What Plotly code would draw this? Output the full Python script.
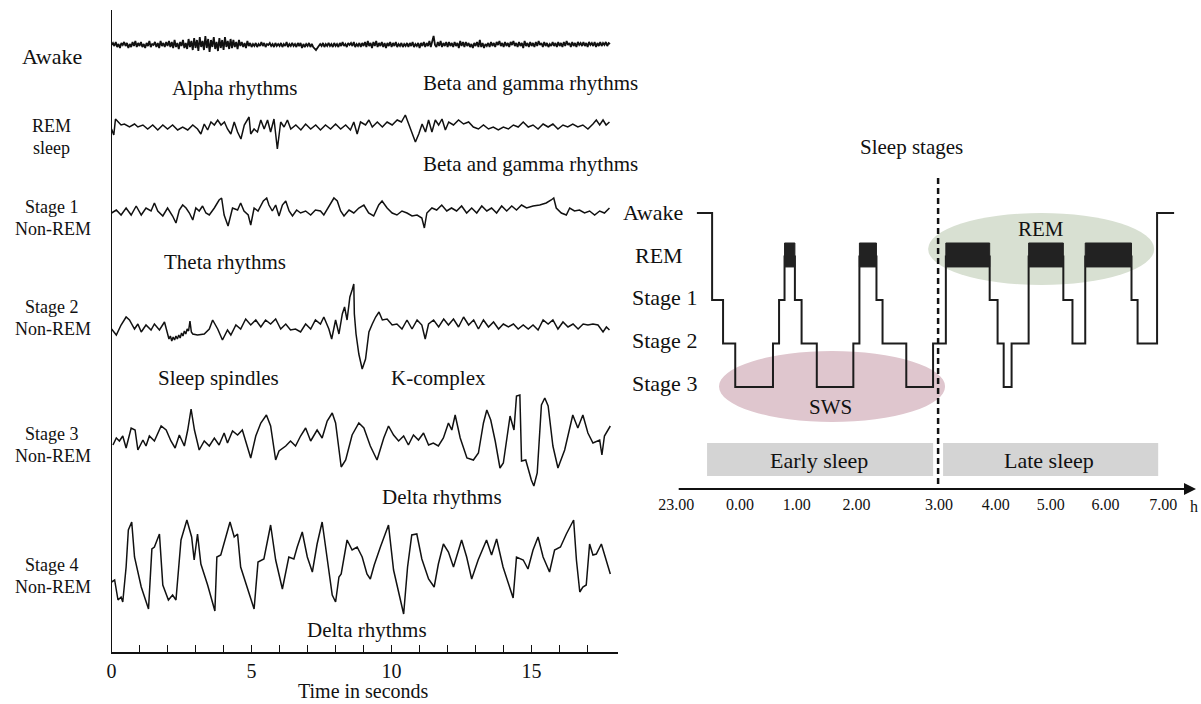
import plotly.graph_objects as go

FONT = "Liberation Serif"
W, H = 1201, 704

# ---------------- EEG traces ----------------
# Awake: values sampled every 0.05 s (high-frequency trace)
awake_dt = 0.05
awake_v = [0,2,-1,3,-2,1,-3,2,0,3,-1,2,-3,1,-2,3,-1,4,-2,2,
 -1,3,-2,1,-3,2,-1,4,-2,1,0,3,-2,2,-3,4,-1,2,-2,3,
 -1,4,-2,3,-3,5,-2,2,-4,3,-1,5,-3,2,-4,6,-2,4,-5,7,
 -3,5,-6,8,-2,4,-5,9,-3,6,-7,5,-2,8,-4,3,-6,7,-3,5,
 -5,8,-2,4,-4,6,-3,5,-2,3,-4,5,-1,3,-2,2,-3,4,-1,2,
 -2,1,-1,2,-2,1,-1,3,-1,2,-2,1,0,2,-1,1,-2,2,-1,1,
 -1,2,-2,1,-1,3,-2,1,-1,2,-1,1,-2,2,-1,2,-3,1,-2,1,
 -1,2,-2,1,-2,-4,-5,-3,-1,1,-1,2,-2,1,-1,2,-1,1,-2,2,
 -1,1,-2,2,-1,3,-1,1,-2,2,0,2,-1,3,-2,1,-1,2,-2,2,
 -1,3,-2,4,-1,2,-3,3,-1,4,-2,2,-1,3,-2,2,-3,2,-1,3,
 -2,2,-1,3,-2,1,-1,2,-2,1,-1,2,-2,2,-1,3,-2,1,-1,2,
 -3,2,-1,3,-2,2,-1,4,-2,3,9,0,-2,3,-1,4,-2,2,-1,3,
 -2,3,-1,2,-2,3,-1,2,-3,4,-1,3,-2,3,-1,2,-2,1,-3,2,
 -1,3,-2,5,-2,2,-3,1,-1,2,-2,3,-1,2,-2,3,0,4,-1,2,
 -2,3,-1,2,-2,3,0,4,-1,2,-2,3,-1,2,-3,4,-1,2,-2,3,
 -1,2,-2,3,-1,4,0,2,-2,3,-1,2,-2,1,-1,3,-1,2,-2,3,
 -1,2,-2,3,-1,4,0,2,-2,3,-1,2,-2,3,0,2,-1,3,-1,2,
 -2,3,0,2,-1,3,-2,2,-1,3,-1,2,0,3,-1,2,1]

# Other stages: (time in s, amplitude) turning points
rem_pts = [(0.0,-2),(0.08,-8),(0.14,8),(0.23,5),(0.34,2),(0.46,3),(0.64,0),(0.82,3),(0.94,0),(1.12,2),
 (1.29,-2),(1.47,2),(1.65,-3),(1.83,2),(2.0,-2),(2.18,2),(2.36,-3),(2.54,0),(2.72,-3),(2.9,2),
 (3.07,-2),(3.19,-7),(3.31,3),(3.43,-3),(3.55,5),(3.67,2),(3.79,7),(3.91,2),(4.03,5),(4.14,-2),
 (4.26,-7),(4.38,5),(4.5,-5),(4.62,-12),(4.74,2),(4.91,10),(4.97,-7),(5.09,-2),(5.21,-5),(5.33,7),
 (5.45,-2),(5.57,7),(5.68,-5),(5.8,8),(5.92,-22),(6.04,5),(6.16,0),(6.28,7),(6.4,-2),(6.58,2),
 (6.76,-3),(6.93,3),(7.11,-2),(7.29,2),(7.46,-3),(7.64,2),(7.82,-2),(8.0,3),(8.18,-2),(8.36,2),
 (8.53,-3),(8.65,5),(8.77,-7),(8.89,5),(9.07,2),(9.19,7),(9.31,0),(9.49,5),(9.67,0),(9.84,5),
 (10.02,2),(10.2,7),(10.35,5),(10.49,12),(10.61,3),(10.85,-15),(10.97,-7),(11.09,3),(11.21,-5),(11.32,7),
 (11.44,-5),(11.56,7),(11.68,2),(11.8,8),(11.92,-3),(12.04,5),(12.21,2),(12.39,7),(12.57,3),(12.75,5),
 (12.92,0),(13.1,-2),(13.28,2),(13.46,-2),(13.63,0),(13.81,-3),(13.99,0),(14.17,-2),(14.35,2),(14.52,0),
 (14.7,5),(14.88,0),(15.05,2),(15.23,-2),(15.41,3),(15.59,0),(15.76,3),(15.94,-2),(16.12,2),(16.29,0),
 (16.47,3),(16.65,0),(16.83,2),(17.01,-2),(17.19,3),(17.31,7),(17.43,2),(17.55,7),(17.66,2),(17.78,5)]

stage1_pts = [(0.0,0),(0.17,3),(0.34,-2),(0.52,5),(0.7,-2),(0.88,7),(1.06,-2),(1.23,5),(1.41,2),(1.53,10),
 (1.65,2),(1.83,-3),(2.0,5),(2.18,-3),(2.3,-10),(2.42,3),(2.54,8),(2.66,5),(2.78,0),(2.9,-7),
 (3.01,5),(3.13,2),(3.25,7),(3.37,0),(3.49,-2),(3.67,5),(3.84,13),(3.93,15),(4.02,-2),(4.16,-13),
 (4.32,5),(4.5,3),(4.61,10),(4.73,2),(4.88,-2),(4.97,-12),(5.09,5),(5.23,2),(5.42,12),(5.54,15),
 (5.62,8),(5.74,2),(5.86,8),(5.98,-3),(6.1,8),(6.22,12),(6.34,2),(6.46,-3),(6.61,3),(6.75,0),
 (6.93,2),(7.11,-2),(7.28,3),(7.46,2),(7.58,-2),(7.94,15),(8.06,12),(8.18,2),(8.3,-3),(8.48,3),
 (8.65,0),(8.83,5),(9.01,8),(9.18,0),(9.36,-3),(9.54,8),(9.66,12),(9.84,5),(10.02,0),(10.19,-2),
 (10.37,2),(10.55,0),(10.73,-3),(10.91,-2),(11.08,-5),(11.17,-15),(11.26,0),(11.44,5),(11.61,3),(11.79,8),
 (11.97,2),(12.14,5),(12.32,2),(12.5,7),(12.68,0),(12.86,5),(13.04,0),(13.22,7),(13.4,2),(13.57,5),
 (13.75,0),(13.93,7),(14.11,2),(14.29,7),(14.46,3),(14.64,8),(14.82,5),(15.05,7),(15.29,8),(15.52,10),
 (15.7,13),(15.79,15),(15.88,5),(16.06,0),(16.24,-2),(16.36,5),(16.53,2),(16.71,3),(16.89,0),(17.07,2),
 (17.25,-2),(17.43,2),(17.6,0),(17.78,5)]

stage2_pts = [(0.0,-2),(0.17,-8),(0.34,2),(0.52,10),(0.64,7),(0.82,-2),(0.94,3),(1.06,-5),(1.23,2),(1.41,-3),
 (1.53,3),(1.71,-3),(1.89,5),(2.0,-5),(2.05,-12),(2.1,-9),(2.15,-14),(2.2,-10),(2.25,-13),(2.3,-9),
 (2.35,-12),(2.4,-8),(2.45,-11),(2.5,-6),(2.55,-9),(2.6,-4),(2.65,-7),(2.7,-2),(2.75,-4),(2.8,6),
 (2.85,-5),(2.9,-7),(3.07,-8),(3.31,-7),(3.49,-2),(3.61,7),(3.79,-2),(3.96,-13),(4.14,-3),(4.26,-8),
 (4.44,2),(4.61,-2),(4.79,8),(4.97,2),(5.15,7),(5.33,0),(5.5,7),(5.68,3),(5.86,8),(6.04,-2),
 (6.22,3),(6.39,-3),(6.57,-2),(6.75,-5),(6.93,3),(7.11,-2),(7.28,7),(7.46,3),(7.58,10),(7.76,-2),
 (7.86,-12),(8.0,7),(8.12,-7),(8.24,13),(8.32,20),(8.41,7),(8.51,30),(8.59,37),(8.65,43),(8.67,13),
 (8.73,-7),(8.83,-27),(8.95,-42),(9.07,-32),(9.19,-5),(9.31,3),(9.43,10),(9.55,15),(9.67,7),(9.84,8),
 (10.02,2),(10.19,3),(10.37,-2),(10.55,7),(10.73,-2),(10.91,7),(11.08,2),(11.2,-12),(11.32,3),(11.5,7),
 (11.68,0),(11.86,8),(12.03,2),(12.21,8),(12.39,0),(12.57,10),(12.75,2),(12.93,7),(13.1,-2),(13.28,7),
 (13.46,0),(13.64,5),(13.82,-2),(13.99,3),(14.17,0),(14.35,3),(14.52,-2),(14.7,2),(14.88,-2),(15.05,2),
 (15.23,-3),(15.41,7),(15.59,3),(15.76,7),(15.94,-2),(16.12,5),(16.3,0),(16.48,3),(16.66,-2),(16.84,3),
 (17.01,2),(17.19,3),(17.37,2),(17.55,-5),(17.67,0),(17.78,-3)]

stage3_pts = [(0.05,-2),(0.17,5),(0.28,2),(0.4,7),(0.52,-5),(0.7,15),(0.84,13),(0.94,-7),(1.12,3),(1.23,-3),
 (1.35,7),(1.53,2),(1.77,17),(1.95,13),(2.12,2),(2.27,-5),(2.42,8),(2.6,-3),(2.72,13),(2.84,34),
 (2.96,13),(3.13,-7),(3.31,2),(3.49,-3),(3.67,5),(3.84,-2),(4.02,10),(4.14,0),(4.32,12),(4.5,8),
 (4.67,13),(4.97,-15),(5.15,7),(5.33,20),(5.53,28),(5.68,17),(5.86,-17),(5.98,-8),(6.22,-3),(6.39,2),
 (6.57,-3),(6.75,7),(6.93,15),(7.11,2),(7.34,13),(7.52,5),(7.7,22),(7.88,30),(8.0,20),(8.2,-24),
 (8.36,-17),(8.59,8),(8.83,20),(9.01,15),(9.24,-3),(9.48,-17),(9.72,5),(9.89,17),(10.07,8),(10.25,2),
 (10.43,7),(10.6,-2),(10.78,8),(10.96,3),(11.14,10),(11.32,-2),(11.49,0),(11.67,-3),(11.85,5),(12.03,20),
 (12.15,13),(12.27,28),(12.45,5),(12.69,-15),(12.92,-17),(13.1,-10),(13.28,20),(13.4,33),(13.54,23),(13.7,2),
 (13.87,-25),(13.99,-20),(14.23,27),(14.37,13),(14.46,47),(14.58,48),(14.64,-18),(14.79,-17),(14.99,-37),(15.08,-43),
 (15.2,-30),(15.35,38),(15.47,45),(15.59,37),(15.76,-3),(15.94,-25),(16.18,-7),(16.47,28),(16.65,15),(16.83,28),
 (17.01,10),(17.19,0),(17.43,3),(17.51,-12),(17.6,7),(17.81,17)]

stage4_pts = [(0.0,-15),(0.11,-13),(0.23,-33),(0.34,-30),(0.4,-35),(0.52,0),(0.6,37),(0.72,45),(0.82,10),(1.06,-20),
 (1.32,-42),(1.44,18),(1.53,20),(1.71,33),(1.83,-18),(2.03,-33),(2.18,-28),(2.3,-33),(2.48,27),(2.69,47),
 (2.86,30),(2.95,7),(3.07,33),(3.19,3),(3.43,-18),(3.69,-44),(3.76,10),(3.9,12),(4.08,30),(4.23,45),
 (4.38,30),(4.5,33),(4.61,0),(5.09,-42),(5.23,5),(5.44,8),(5.68,42),(5.86,7),(6.1,-22),(6.33,10),
 (6.51,8),(6.63,20),(6.81,35),(6.99,10),(7.17,-5),(7.34,23),(7.52,45),(7.68,13),(7.88,-28),(8.0,-35),
 (8.12,-10),(8.2,-7),(8.41,27),(8.59,17),(8.77,20),(8.95,10),(9.12,-7),(9.24,-12),(9.38,2),(9.6,20),
 (9.77,33),(9.89,42),(10.07,-3),(10.43,-47),(10.57,0),(10.72,32),(10.9,33),(11.08,8),(11.32,-12),(11.52,-20),
 (11.67,3),(11.85,23),(12.03,15),(12.21,0),(12.5,27),(12.68,10),(12.86,-12),(13.09,7),(13.39,27),(13.57,12),
 (13.75,28),(13.98,0),(14.34,-31),(14.46,10),(14.7,7),(14.87,-2),(15.05,17),(15.23,30),(15.41,10),(15.64,-5),
 (15.82,17),(16.03,20),(16.24,33),(16.5,47),(16.6,7),(16.72,-25),(16.83,-20),(16.95,-18),(17.07,23),(17.19,12),
 (17.31,13),(17.49,23),(17.81,-7)]

time_ticks = list(range(0, 18))
time_tick_labels = ["0", "", "", "", "", "5", "", "", "", "", "10", "", "", "", "", "15", "", ""]

# ---------------- Hypnogram (hours after 23.00) ----------------
hyp_times = [0.34, 0.59, 0.77, 0.97, 1.59, 1.69, 1.78, 1.95, 2.06, 2.31, 2.91, 3.01, 3.29, 3.39, 3.78,
             4.22, 4.43, 5.15, 5.28, 5.38, 5.51, 5.79, 6.36, 6.51, 6.72, 7.48, 7.58, 7.90, 8.18]
hyp_stages = ["Awake", "Stage 1", "Stage 2", "Stage 3", "Stage 2", "Stage 1", "REM", "Stage 1", "Stage 2",
              "Stage 3", "Stage 2", "REM", "Stage 1", "Stage 2", "Stage 3", "Stage 2", "REM", "Stage 1",
              "Stage 2", "Stage 3", "Stage 2", "REM", "Stage 1", "Stage 2", "REM", "Stage 1", "Stage 2", "Awake"]
stage_names = ["Stage 3", "Stage 2", "Stage 1", "REM", "Awake"]
clock_labels = ["23.00", "0.00", "1.00", "2.00", "3.00", "4.00", "5.00", "6.00", "7.00"]

# ---------------- layout helpers ----------------
def pxx(x):
    return x / W

def pxy(y):
    return 1 - y / H

eeg_offsets = [607, 525, 439, 325, 209, 85]   # baselines, left panel (value = 652 - pixel y)
eeg_widths = [1.8, 1.5, 1.5, 1.5, 1.5, 1.5]

HX0, HXS = 674, 61.125   # right panel: pixel x = 674 + 61.125*h
HY0, HYS = 387, 43.5     # right panel: pixel y = 387 - 43.5*level
def hx(p):
    return (p - HX0) / HXS
def hy(p):
    return (HY0 - p) / HYS

clock_tick_px = [674, 738, 795, 855, 938, 995, 1050, 1105, 1163]

fig = go.Figure()

awake_t = [i * awake_dt for i in range(len(awake_v))]
series = [("Awake", awake_t, awake_v)]
for name, pts in [("REM sleep", rem_pts), ("Stage 1 Non-REM", stage1_pts), ("Stage 2 Non-REM", stage2_pts),
                  ("Stage 3 Non-REM", stage3_pts), ("Stage 4 Non-REM", stage4_pts)]:
    series.append((name, [p[0] for p in pts], [p[1] for p in pts]))

for (name, xs, ys), off, lw in zip(series, eeg_offsets, eeg_widths):
    fig.add_trace(go.Scatter(
        x=xs, y=[v + off for v in ys], mode="lines",
        line=dict(color="#111111", width=lw), name=name, showlegend=False,
        xaxis="x", yaxis="y", hoverinfo="skip"))

level = {s: i for i, s in enumerate(stage_names)}
hyp_y = [level[s] for s in hyp_stages] + [level[hyp_stages[-1]]]
fig.add_trace(go.Scatter(
    x=hyp_times, y=hyp_y, mode="lines", line=dict(color="#1c1c1c", width=2, shape="hv"),
    xaxis="x2", yaxis="y2", showlegend=False, hoverinfo="skip"))

shapes = []
shapes.append(dict(type="circle", xref="x2", yref="y2", x0=hx(717), x1=hx(944), y0=hy(422), y1=hy(351),
                   fillcolor="#dfc6ce", line=dict(width=0), layer="below"))
shapes.append(dict(type="circle", xref="x2", yref="y2", x0=hx(927), x1=hx(1154), y0=hy(285), y1=hy(213),
                   fillcolor="#d8e0d2", line=dict(width=0), layer="below"))
for i, s in enumerate(hyp_stages):
    if s == "REM":
        shapes.append(dict(type="rect", xref="x2", yref="y2", x0=hyp_times[i], x1=hyp_times[i + 1],
                           y0=level["REM"] - 0.24, y1=level["REM"] + 0.31,
                           fillcolor="#222222", line=dict(color="#222222", width=1), layer="above"))
shapes.append(dict(type="rect", xref="x2", yref="y2", x0=hx(705), x1=hx(932), y0=hy(476), y1=hy(443),
                   fillcolor="#d4d4d4", line=dict(width=0), layer="below"))
shapes.append(dict(type="rect", xref="x2", yref="y2", x0=hx(942), x1=hx(1158), y0=hy(476), y1=hy(443),
                   fillcolor="#d4d4d4", line=dict(width=0), layer="below"))
shapes.append(dict(type="line", xref="x2", yref="y2", x0=hx(937), x1=hx(937), y0=hy(178), y1=hy(492),
                   line=dict(color="#111111", width=2.5, dash="6px,4px"), layer="above"))

ann = []
def text(t, x, y, size=21, xanchor="center"):
    ann.append(dict(text=t, x=pxx(x), y=pxy(y), xref="paper", yref="paper", showarrow=False,
                    xanchor=xanchor, yanchor="middle", font=dict(family=FONT, size=size, color="#111111")))

# left stage labels
text("Awake", 47, 57, 22)
text("REM", 47, 126, 18); text("sleep", 47, 148, 18)
text("Stage 1", 47, 207, 18); text("Non-REM", 48, 229, 18)
text("Stage 2", 47, 307, 18); text("Non-REM", 48, 329, 18)
text("Stage 3", 47, 434, 18); text("Non-REM", 48, 456, 18)
text("Stage 4", 47, 565, 18); text("Non-REM", 48, 587, 18)
# rhythm annotations
text("Alpha rhythms", 230, 88)
text("Beta and gamma rhythms", 528, 83)
text("Beta and gamma rhythms", 528, 164)
text("Theta rhythms", 221, 262)
text("Sleep spindles", 214, 378)
text("K-complex", 435, 378)
text("Delta rhythms", 439, 497)
text("Delta rhythms", 364, 630)
text("Time in seconds", 360, 691, 20)
# right panel
text("Sleep stages", 910, 147, 21)
for s, ypx in zip(["Awake", "REM", "Stage 1", "Stage 2", "Stage 3"], [212, 255, 297, 340, 383]):
    text(s, 697 if s.startswith("Stage") else 683, ypx, 22, xanchor="right")
text("REM", 1040, 229, 21)
text("SWS", 829, 407, 21)
text("Early sleep", 817, 460, 22)
text("Late sleep", 1048, 460, 22)
text("h", 1194, 506, 16)

ann.append(dict(x=hx(1196), y=hy(489), ax=hx(675), ay=hy(489), xref="x2", yref="y2", axref="x2", ayref="y2",
                showarrow=True, arrowhead=2, arrowsize=1.2, arrowwidth=2, arrowcolor="#111111", text=""))

fig.update_layout(
    width=W, height=H, margin=dict(l=0, r=0, t=0, b=0),
    paper_bgcolor="white", plot_bgcolor="rgba(0,0,0,0)",
    font=dict(family=FONT, color="#111111"),
    showlegend=False, shapes=shapes, annotations=ann,
    xaxis=dict(domain=[pxx(107), pxx(616)], range=[0, 18.1], anchor="y",
               showline=True, linecolor="#111111", linewidth=2, ticks="inside", ticklen=7,
               tickwidth=1.2, tickcolor="#111111", tickvals=time_ticks, ticktext=time_tick_labels,
               tickfont=dict(family=FONT, size=20, color="#111111"), ticklabelstandoff=0,
               showgrid=False, zeroline=False, fixedrange=True),
    yaxis=dict(domain=[pxy(652), pxy(10)], range=[0, 642], anchor="x",
               showline=True, linecolor="#111111", linewidth=1.2, showticklabels=False, ticks="",
               showgrid=False, zeroline=False, fixedrange=True),
    xaxis2=dict(domain=[pxx(600), 1.0], range=[hx(600), hx(1201)], anchor="y2",
                showline=False, ticks="", tickvals=[hx(p) for p in clock_tick_px], ticktext=clock_labels,
                tickfont=dict(family=FONT, size=16, color="#111111"), ticklabelstandoff=4,
                showgrid=False, zeroline=False, fixedrange=True),
    yaxis2=dict(domain=[pxy(489), pxy(120)], range=[hy(489), hy(120)], anchor="x2",
                visible=False, showgrid=False, zeroline=False, fixedrange=True),
)

fig.write_html("out.html")
